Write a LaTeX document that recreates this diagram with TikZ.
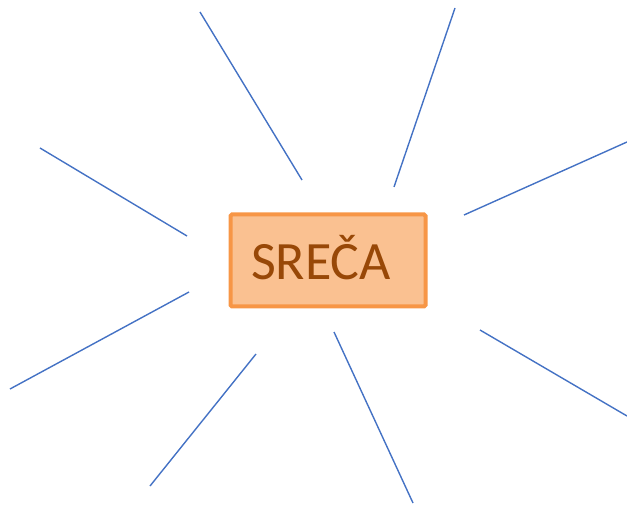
\documentclass[tikz,border=0pt]{standalone}
\usepackage{fontspec}
\setmainfont{Carlito}
\definecolor{rayblue}{HTML}{4472C4}
\definecolor{boxfill}{HTML}{FAC191}
\definecolor{boxline}{HTML}{F79646}
\definecolor{boxtext}{HTML}{984807}
\begin{document}
\begin{tikzpicture}[x=1pt,y=-1pt,
  ray/.style={draw=rayblue,line width=1.4pt},
  centerbox/.style={draw=boxline,fill=boxfill,line width=4pt,rounded corners=1.5pt,minimum width=195pt,minimum height=92pt,inner sep=0pt}]
\useasboundingbox (0,0) rectangle (627,505);
\node[centerbox] (box) at (328,260.5) {};
\node[text=boxtext,font=\fontsize{54}{64}\selectfont,anchor=base] (label) at (321,280) {SREČA};
\coordinate (a1) at (200,12);  \coordinate (b1) at (302,180);
\coordinate (a2) at (455,8);   \coordinate (b2) at (394,187);
\coordinate (a3) at (40,148);  \coordinate (b3) at (187,236);
\coordinate (a4) at (627,142); \coordinate (b4) at (464,215);
\coordinate (a5) at (10,389);  \coordinate (b5) at (189,292);
\coordinate (a6) at (627,416); \coordinate (b6) at (480,330);
\coordinate (a7) at (150,486); \coordinate (b7) at (256,354);
\coordinate (a8) at (413,503); \coordinate (b8) at (334,332);
\foreach \i in {1,...,8} \draw[ray] (a\i) -- (b\i);
\end{tikzpicture}
\end{document}
